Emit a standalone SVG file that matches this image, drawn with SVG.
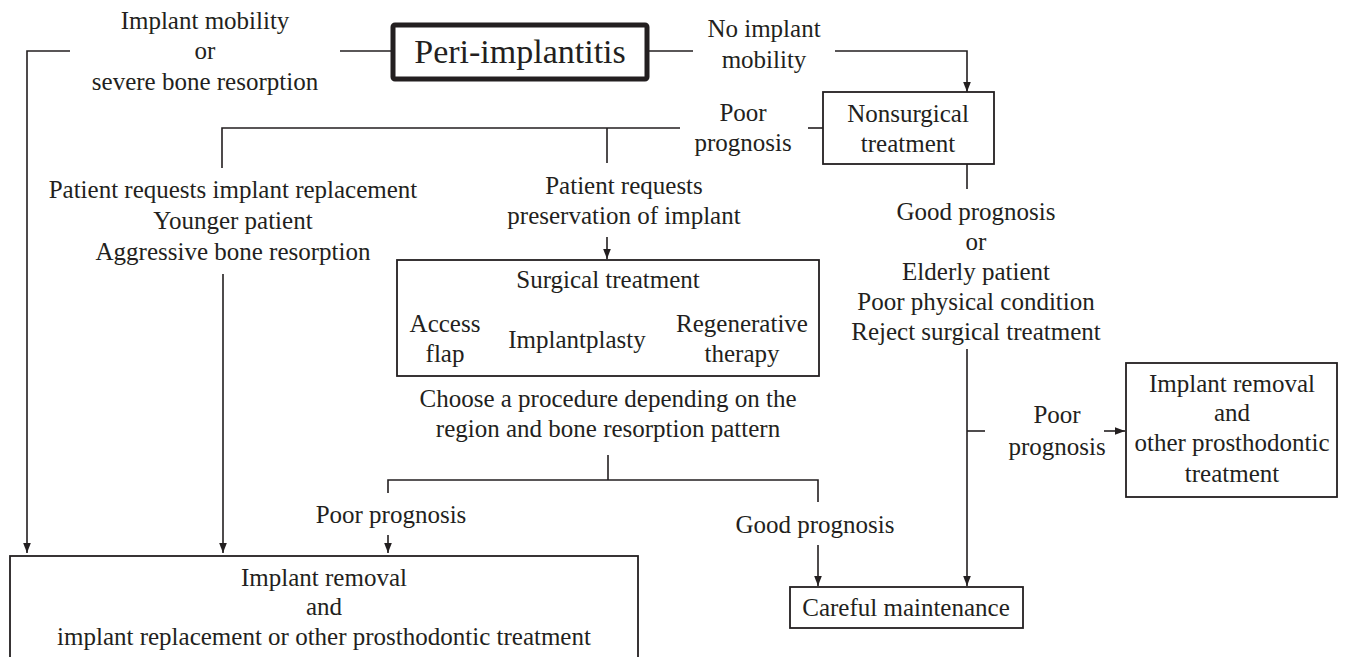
<svg xmlns="http://www.w3.org/2000/svg" width="1357" height="657" viewBox="0 0 1357 657">
<style>
text{font-family:'Liberation Serif','Times New Roman',serif;font-size:25px;fill:#231f20;text-anchor:middle}
.big{font-size:34px}
.box{fill:#fff;stroke:#231f20;stroke-width:1.8}
.thick{fill:#fff;stroke:#231f20;stroke-width:5}
.ln{fill:none;stroke:#231f20;stroke-width:1.6}
.arr{marker-end:url(#ah)}
</style>
<defs>
<marker id="ah" markerUnits="userSpaceOnUse" markerWidth="10" markerHeight="10" viewBox="0 0 10 10" refX="10" refY="5" orient="auto">
<path d="M0,1.2 L10,5 L0,8.8 Z" fill="#231f20"/>
</marker>
</defs>
<rect width="1357" height="657" fill="#fff"/>
<g id="connectors">
<path class="ln arr" d="M70,51 H27 V553"/>
<path class="ln" d="M340,51 H393"/>
<path class="ln" d="M647,51 H693"/>
<path class="ln arr" d="M835,51 H967 V92"/>
<path class="ln" d="M808,128 H823"/>
<path class="ln" d="M680,128 H222 V168"/>
<path class="ln" d="M607,128 V163"/>
<path class="ln arr" d="M223,274 V553"/>
<path class="ln arr" d="M607,237 V259"/>
<path class="ln" d="M608,455 V480"/>
<path class="ln" d="M388,493 V480 H818 V502"/>
<path class="ln arr" d="M388,535 V553"/>
<path class="ln arr" d="M818,545 V586"/>
<path class="ln" d="M967,164 V189"/>
<path class="ln arr" d="M967,349 V586"/>
<path class="ln" d="M967,431 H985"/>
<path class="ln arr" d="M1104,431 H1125"/>
</g>
<g id="peri">
<rect class="thick" x="393" y="25" width="254" height="54" rx="2"/>
<text class="big" x="520" y="63">Peri-implantitis</text>
</g>
<g id="label-mobility">
<text x="205" y="29">Implant mobility</text>
<text x="205" y="59">or</text>
<text x="205" y="90">severe bone resorption</text>
</g>
<g id="label-no-mobility">
<text x="764" y="37">No implant</text>
<text x="764" y="68">mobility</text>
</g>
<g id="nonsurgical">
<rect class="box" x="823" y="92" width="171" height="72"/>
<text x="908" y="122">Nonsurgical</text>
<text x="908" y="152">treatment</text>
</g>
<g id="label-poor1">
<text x="743" y="121">Poor</text>
<text x="743" y="151">prognosis</text>
</g>
<g id="label-replacement">
<text x="233" y="198">Patient requests implant replacement</text>
<text x="233" y="229">Younger patient</text>
<text x="233" y="260">Aggressive bone resorption</text>
</g>
<g id="label-preservation">
<text x="624" y="194">Patient requests</text>
<text x="624" y="224">preservation of implant</text>
</g>
<g id="surgical">
<rect class="box" x="397" y="260" width="422" height="116"/>
<text x="608" y="288">Surgical treatment</text>
<text x="445" y="332">Access</text>
<text x="445" y="362">flap</text>
<text x="577" y="348">Implantplasty</text>
<text x="742" y="332">Regenerative</text>
<text x="742" y="362">therapy</text>
</g>
<g id="label-choose">
<text x="608" y="407">Choose a procedure depending on the</text>
<text x="608" y="437">region and bone resorption pattern</text>
</g>
<g id="label-poor2">
<text x="391" y="523">Poor prognosis</text>
</g>
<g id="label-good2">
<text x="815" y="533">Good prognosis</text>
</g>
<g id="label-good1">
<text x="976" y="220">Good prognosis</text>
<text x="976" y="250">or</text>
<text x="976" y="280">Elderly patient</text>
<text x="976" y="310">Poor physical condition</text>
<text x="976" y="340">Reject surgical treatment</text>
</g>
<g id="label-poor3">
<text x="1057" y="423">Poor</text>
<text x="1057" y="455">prognosis</text>
</g>
<g id="removal-other">
<rect class="box" x="1126" y="363" width="211" height="134"/>
<text x="1232" y="392">Implant removal</text>
<text x="1232" y="421">and</text>
<text x="1232" y="451">other prosthodontic</text>
<text x="1232" y="482">treatment</text>
</g>
<g id="removal-replacement">
<rect class="box" x="10" y="556" width="628" height="120"/>
<text x="324" y="586">Implant removal</text>
<text x="324" y="615">and</text>
<text x="324" y="645">implant replacement or other prosthodontic treatment</text>
</g>
<g id="careful">
<rect class="box" x="790" y="587" width="233" height="41"/>
<text x="906" y="616">Careful maintenance</text>
</g>
</svg>
